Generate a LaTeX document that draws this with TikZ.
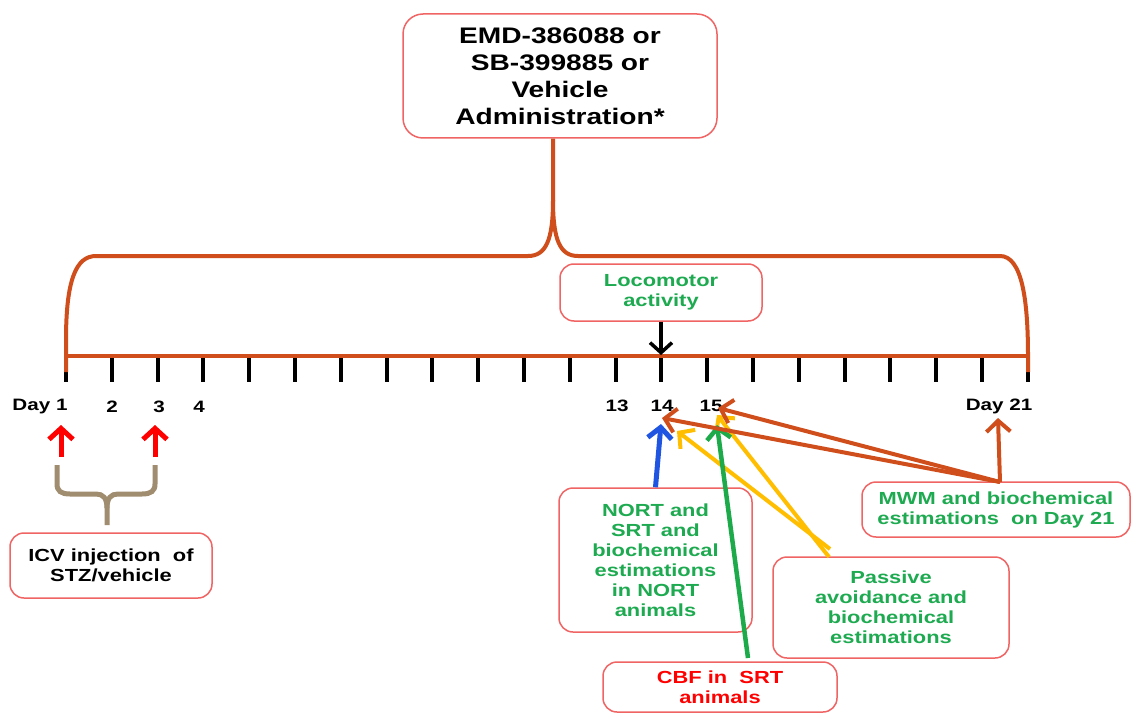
\documentclass[tikz,border=0pt]{standalone}
\usepackage{fontspec}
\setmainfont{Liberation Sans}[FakeStretch=1.25]
\usetikzlibrary{arrows.meta}
\definecolor{boxred}{RGB}{240,100,100}
\definecolor{brorange}{RGB}{207,78,28}
\definecolor{txtgreen}{RGB}{30,170,80}
\definecolor{argreen}{RGB}{29,170,75}
\definecolor{aryellow}{RGB}{255,190,0}
\definecolor{arblue}{RGB}{31,85,224}
\definecolor{tanbr}{RGB}{160,141,112}
\begin{document}
\begin{tikzpicture}[x=1pt,y=-1pt,
  box/.style={draw=boxred, line width=1.5pt, rounded corners=14pt, align=center, inner sep=0pt,
    font=\fontsize{17.5}{20}\selectfont\bfseries},
  bigbox/.style={box, rounded corners=20pt, font=\fontsize{22.5}{27}\selectfont\bfseries},
  daylab/.style={inner sep=0pt, font=\fontsize{16.5}{18}\selectfont\bfseries},
  tickmark/.style={line width=4pt, black},
  arr/.style={line width=4pt, -{Straight Barb[length=11pt,width=24pt]}},
  thinarr/.style={line width=3.5pt, -{Straight Barb[length=10pt,width=22pt]}}]
\useasboundingbox (0,0) rectangle (1135,714);
\fill[white] (0,0) rectangle (1135,714);

% boxes
\node[bigbox, minimum width=314pt, minimum height=124pt] (top) at (560,76)
  {EMD-386088 or\\SB-399885 or\\Vehicle\\Administration*};
\node[box, minimum width=202pt, minimum height=57pt, text=txtgreen] (loco) at (661,292.5)
  {Locomotor\\activity};
\node[box, minimum width=202pt, minimum height=65pt] (icv) at (111,565.5)
  {ICV injection\ \ of\\STZ/vehicle};
\node[box, minimum width=193pt, minimum height=144pt, text=txtgreen] (nort) at (655.5,560)
  {NORT and\\SRT and\\biochemical\\estimations\\in NORT\\animals};
\node[box, minimum width=236pt, minimum height=101pt, text=txtgreen] (pass) at (891,607.5)
  {Passive\\avoidance and\\biochemical\\estimations};
\node[box, minimum width=234pt, minimum height=50pt, text=red] (cbf) at (720,687)
  {CBF in\ \ SRT\\animals};
\node[box, minimum width=268pt, minimum height=55pt, text=txtgreen] (mwm) at (996,509.5)
  {MWM and biochemical\\estimations\ \ on Day 21};

% ticks
\foreach \i in {0,...,21} \draw[tickmark] ({66+45.8*\i},357) -- ({66+45.8*\i},382);
% timeline and bracket
\draw[brorange, line width=4pt] (66,356) -- (1028,356);
\draw[brorange, line width=4pt, line join=round]
  (66,372) -- (66,340) .. controls (66,280) and (76,256) .. (96,256) -- (528,256)
  .. controls (546,256) and (553,240) .. (553,200) -- (553,205 |- top.south);
\draw[brorange, line width=4pt, line join=round]
  (1028,372) -- (1028,356) .. controls (1028,300) and (1022,256) .. (1000,256) -- (578,256)
  .. controls (560,256) and (553,240) .. (553,200);

% day labels
\node[daylab] (d1) at (40,407) {Day 1};
\node[daylab] (d2) at (112,407) {2};
\node[daylab] (d3) at (159,407) {3};
\node[daylab] (d4) at (199,407) {4};
\node[daylab] (d13) at (617,406) {13};
\node[daylab] (d14) at (662,406) {14};
\node[daylab] (d15) at (711,406) {15};
\node[daylab] (d21) at (999,406) {Day 21};

% tip coordinates
\coordinate (tl) at (661,355);
\coordinate (r1t) at (61,425);
\coordinate (r1b) at (61,457);
\coordinate (r3t) at (155,425);
\coordinate (r3b) at (155,457);
\coordinate (b14) at (661,424);
\coordinate (o14) at (662,418);
\coordinate (o15) at (718,408);
\coordinate (o21) at (998,418);
\coordinate (y14) at (677,431);
\coordinate (y15) at (717,415);
\coordinate (g15) at (717,425);
\coordinate (ytail1) at (830,549);
\coordinate (ytail2) at (829,557);
\coordinate (gtail) at (748,658);
\coordinate (otail) at (1000,482);

% arrows
\draw[thinarr, black] (loco.south) -- (tl);
\draw[arr, red, line width=5pt] (r1b) -- (r1t);
\draw[arr, red, line width=5pt] (r3b) -- (r3t);
\draw[arr, aryellow] (ytail1) -- (y14);
\draw[arr, aryellow] (ytail2) -- (y15);
\draw[arr, arblue, line width=5pt] (nort.north) -- (b14);
\draw[arr, argreen, line width=4.5pt] (gtail) -- (g15);
\draw[arr, brorange] (otail) -- (o14);
\draw[arr, brorange] (otail) -- (o15);
\draw[arr, brorange] (otail) -- (o21);

% tan brace
\draw[tanbr, line width=5pt] (57,465) -- (57,484) .. controls (57,491) and (61,494) .. (70,494)
  -- (96,494) .. controls (103,494) and (107,498) .. (107,508) -- (107,525);
\draw[tanbr, line width=5pt] (155,465) -- (155,484) .. controls (155,491) and (151,494) .. (142,494)
  -- (118,494) .. controls (111,494) and (107,498) .. (107,508);
\end{tikzpicture}
\end{document}
